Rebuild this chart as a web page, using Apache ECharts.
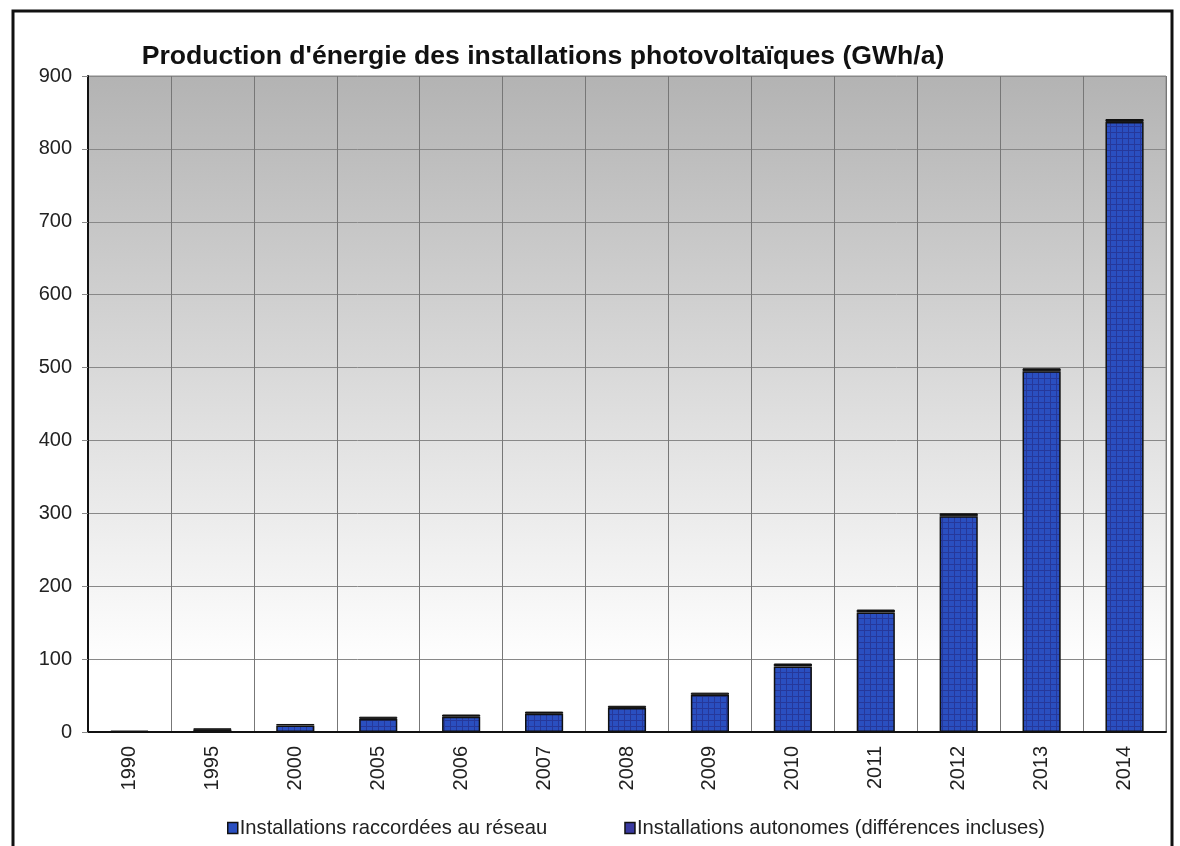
<!DOCTYPE html>
<html><head><meta charset="utf-8">
<script src="https://cdn.jsdelivr.net/npm/echarts@6/dist/echarts.min.js"></script>
<style>html,body{margin:0;padding:0;background:#fff}#c{width:1180px;height:846px}</style>
</head><body><div id="c"></div>
<script>
const categories = ['1990','1995','2000','2005','2006','2007','2008','2009','2010','2011','2012','2013','2014'];
const gridConnected = [0, 3, 9, 18, 21, 25, 33, 51, 90, 164, 296, 495, 837];
const autonomous = [2, 2, 2, 3, 3, 3, 3, 3, 4, 4, 4, 4, 4];
const yTicks = [0, 100, 200, 300, 400, 500, 600, 700, 800, 900];

function makePattern(){
  const c = document.createElement('canvas');
  c.width = 6; c.height = 6;
  const g = c.getContext('2d');
  g.fillStyle = '#2a4fc0'; g.fillRect(0,0,6,6);
  g.fillStyle = '#26389a';
  g.fillRect(0,0,6,1); g.fillRect(0,0,1,6);
  return c;
}
const pat = makePattern();
const chart = echarts.init(document.getElementById('c'));
chart.setOption({
  animation:false,
  title:{text:"Production d'énergie des installations photovoltaïques (GWh/a)", left:538, top:38, textAlign:'center',
    textStyle:{fontFamily:'Liberation Sans', fontSize:26.6, fontWeight:'bold', color:'#111'}},
  graphic:[{type:'rect', shape:{x:13,y:11,width:1159,height:850}, style:{fill:'none', stroke:'#111', lineWidth:3}}],
  grid:{left:88, right:14, top:76, bottom:114, show:true, borderColor:'#888', borderWidth:1,
    backgroundColor:{type:'linear', x:0, y:0, x2:0, y2:1, colorStops:[{offset:0,color:'#b3b3b3'},{offset:0.9,color:'#ffffff'},{offset:1,color:'#ffffff'}]}},
  legend:{bottom:3, left:222, itemGap:77, itemWidth:10, itemHeight:11,
    textStyle:{fontFamily:'Liberation Sans', fontSize:20.2, color:'#222', padding:[0,0,0,-3]},
    data:[{name:'Installations raccordées au réseau', icon:'rect', itemStyle:{color:'#2a4fc0', borderColor:'#111', borderWidth:1.5}},
          {name:'Installations autonomes (différences incluses)', icon:'rect', itemStyle:{color:'#3a3aa0', borderColor:'#111', borderWidth:1.5}}]},
  xAxis:{type:'category', data:categories,
    axisLine:{lineStyle:{color:'#111', width:2}},
    axisTick:{show:false},
    splitLine:{show:true, lineStyle:{color:'#777', width:1}},
    axisLabel:{rotate:90, fontFamily:'Liberation Sans', fontSize:20, color:'#222', margin:14}},
  yAxis:{type:'value', min:0, max:900, interval:100,
    axisLine:{show:true, lineStyle:{color:'#111', width:2}},
    axisTick:{show:true, length:6, lineStyle:{color:'#888'}},
    splitLine:{lineStyle:{color:'#888', width:1}},
    axisLabel:{fontFamily:'Liberation Sans', fontSize:20, color:'#222', margin:16,
      formatter:v=> yTicks.includes(v) ? String(v) : ''}},
  series:[
    {name:'Installations raccordées au réseau', type:'bar', stack:'t', barWidth:'46%', data:gridConnected,
      itemStyle:{color:{image:pat, repeat:'repeat'}, borderColor:'#111', borderWidth:1.5}},
    {name:'Installations autonomes (différences incluses)', type:'bar', stack:'t', data:autonomous,
      itemStyle:{color:'#111', borderColor:'#111', borderWidth:1}}
  ]
});
</script></body></html>
